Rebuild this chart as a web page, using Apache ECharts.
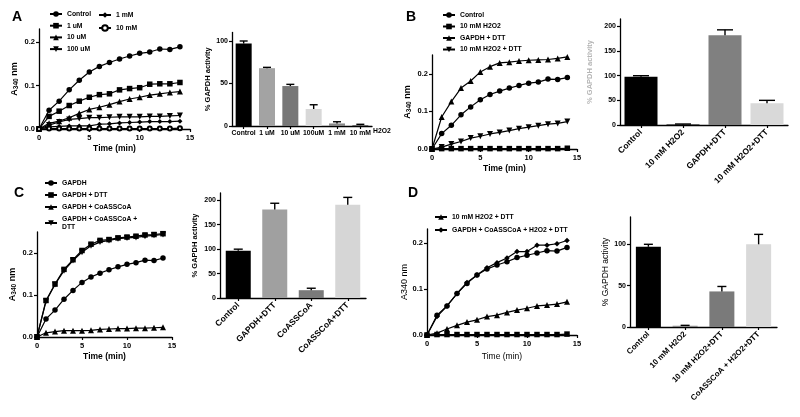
<!DOCTYPE html>
<html><head><meta charset="utf-8">
<script src="https://cdn.jsdelivr.net/npm/echarts@6/dist/echarts.min.js"></script>
<style>html,body{margin:0;padding:0;background:#fff}#c{width:800px;height:417px}</style>
</head><body><div id="c"></div>
<script>
// ---------- data ----------
const timeMin = [0,1,2,3,4,5,6,7,8,9,10,11,12,13,14];
const xTicks = [0,5,10,15];
const yTicksLine = [0,0.1,0.2];

// Panel A kinetics
const aControl = [0,0.043,0.064,0.09,0.112,0.131,0.144,0.153,0.161,0.168,0.174,0.177,0.184,0.183,0.189];
const a1uM    = [0,0.029,0.041,0.054,0.064,0.073,0.079,0.081,0.09,0.093,0.095,0.103,0.104,0.104,0.107];
const a10uM   = [0,0.013,0.018,0.026,0.036,0.045,0.05,0.056,0.063,0.069,0.073,0.078,0.081,0.084,0.086];
const a100uM  = [0,0.009,0.016,0.022,0.024,0.026,0.026,0.027,0.028,0.028,0.028,0.029,0.029,0.03,0.031];
const a1mM    = [0,0.005,0.006,0.007,0.007,0.007,0.011,0.012,0.014,0.015,0.016,0.017,0.017,0.017,0.018];
const a10mM   = [0,0.001,0.001,0.001,0.001,0.001,0.001,0.001,0.001,0.001,0.001,0.001,0.001,0.001,0.002];
// Panel A bars
const aBarCats = ['Control','1 uM','10 uM','100uM','1 mM','10 mM'];
const aBarVals = [97,68,47,20,3,1];
const aBarErr  = [3,1,2,5,2,1];
const aBarTicks = [0,50,100];

// Panel B kinetics
const bControl = [0,0.041,0.063,0.091,0.112,0.131,0.145,0.154,0.162,0.169,0.175,0.178,0.186,0.185,0.19];
const bH2O2    = [0,0.001,0.001,0.001,0.001,0.001,0.001,0.001,0.001,0.001,0.001,0.001,0.001,0.001,0.002];
const bDTT     = [0,0.085,0.126,0.162,0.181,0.205,0.219,0.229,0.231,0.234,0.236,0.237,0.238,0.241,0.245];
const bH2O2DTT = [0,0.005,0.013,0.02,0.029,0.034,0.04,0.044,0.049,0.054,0.058,0.062,0.066,0.068,0.073];
// Panel B bars
const bBarCats = ['Control','10 mM H2O2','GAPDH+DTT','10 mM H2O2+DTT'];
const bBarVals = [98,1,182,44];
const bBarErr  = [2,1,11,6];
const bBarTicks = [0,50,100,150,200];

// Panel C kinetics
const cGAPDH   = [0,0.043,0.064,0.09,0.111,0.13,0.143,0.152,0.16,0.167,0.173,0.177,0.183,0.182,0.188];
const cDTT     = [0,0.087,0.126,0.161,0.184,0.206,0.221,0.23,0.232,0.236,0.238,0.24,0.243,0.244,0.246];
const cCoA     = [0,0.01,0.013,0.015,0.015,0.015,0.016,0.018,0.019,0.02,0.02,0.021,0.021,0.022,0.023];
const cCoADTT  = [0,0.085,0.125,0.158,0.182,0.202,0.217,0.226,0.23,0.234,0.236,0.237,0.24,0.242,0.244];
// Panel C bars
const cBarCats = ['Control','GAPDH+DTT','CoASSCoA','CoASSCoA+DTT'];
const cBarVals = [97,181,16,191];
const cBarErr  = [3,13,4,15];
const cBarTicks = [0,50,100,150,200];

// Panel D kinetics
const dControl    = [0,0.043,0.063,0.09,0.112,0.13,0.143,0.152,0.159,0.168,0.173,0.178,0.183,0.182,0.19];
const dH2O2       = [0,0.001,0.001,0.001,0.001,0.001,0.001,0.001,0.001,0.001,0.001,0.001,0.001,0.001,0.002];
const dH2O2DTT    = [0,0.004,0.013,0.021,0.028,0.033,0.04,0.043,0.049,0.054,0.058,0.063,0.065,0.067,0.072];
const dCoAH2O2DTT = [0,0.04,0.063,0.09,0.114,0.13,0.146,0.157,0.167,0.181,0.181,0.195,0.195,0.198,0.205];
// Panel D bars
const dBarCats = ['Control','10 mM H2O2','10 mM H2O2+DTT','CoASSCoA + H2O2+DTT'];
const dBarVals = [97,1.5,43,100];
const dBarErr  = [3,0.5,6,12];
const dBarTicks = [0,50,100];

// ---------- styling ----------
const FONT = '"Liberation Sans", Arial, sans-serif';
const aBarColors = ['#000000','#a3a3a3','#777777','#d8d8d8','#8a8a8a','#5a5a5a'];
const bBarColors = ['#000000','#000000','#808080','#d9d9d9'];
const cBarColors = ['#000000','#a0a0a0','#7a7a7a','#d6d6d6'];
const dBarColors = ['#000000','#8a8a8a','#7a7a7a','#d9d9d9'];

const grids = [
  {left:39,  top:29,  width:151, height:100}, // 0 A line
  {left:232, top:32.5,width:140, height:93.5},// 1 A bar
  {left:432, top:55,  width:145, height:94},  // 2 B line
  {left:620, top:19,  width:168, height:106}, // 3 B bar
  {left:37,  top:232, width:135, height:105}, // 4 C line
  {left:220, top:193, width:146, height:105}, // 5 C bar
  {left:427, top:229, width:150, height:106}, // 6 D line
  {left:630, top:217, width:147, height:110}  // 7 D bar
];

const axLine = {show:true, lineStyle:{color:'#000', width:1.3}};
const axTick = (vals) => ({show:true, inside:false, length:3, lineStyle:{color:'#000', width:1.2}, customValues: vals});

function lineX(gi, bold, gap) {
  return {type:'value', gridIndex:gi, min:0, max:15, interval:5,
    axisLine:axLine, axisTick:axTick(xTicks), splitLine:{show:false},
    axisLabel:{customValues:xTicks, fontSize:7.5, fontWeight:'bold', color:'#000', fontFamily:FONT, margin:5},
    name:'Time (min)', nameLocation:'middle', nameGap:gap||15,
    nameTextStyle:{fontSize:8.5, fontWeight:bold?'bold':'normal', color:'#000', fontFamily:FONT}};
}
function lineY(gi, max, sub, gap) {
  return {type:'value', gridIndex:gi, min:0, max:max, interval:0.1,
    axisLine:axLine, axisTick:axTick(yTicksLine), splitLine:{show:false},
    axisLabel:{customValues:yTicksLine, formatter:v=>v.toFixed(1), fontSize:7.5, fontWeight:'bold', color:'#000', fontFamily:FONT, margin:4},
    name: sub ? '{a|A}{s|340}{a| nm}' : 'A340 nm', nameLocation:'middle', nameGap:gap,
    nameTextStyle:{fontSize:9, fontWeight:sub?'bold':'normal', color:'#000', fontFamily:FONT,
      rich:{a:{fontSize:9, fontWeight:'bold', fontFamily:FONT, color:'#000'},
            s:{fontSize:6.5, fontWeight:'bold', fontFamily:FONT, color:'#000', verticalAlign:'bottom', padding:[3,0,0,0]}}}};
}
function barX(gi, cats, rotate, fs) {
  return {type:'category', gridIndex:gi, data:cats,
    axisLine:axLine, axisTick:{show:true, alignWithLabel:true, length:3, lineStyle:{color:'#000', width:1.2}},
    axisLabel:{interval:0, rotate:rotate, fontSize:fs, fontWeight:'bold', color:'#000', fontFamily:FONT, margin:rotate?6:4}};
}
function barY(gi, max, ticks, nameColor, nameGap, bold) {
  return {type:'value', gridIndex:gi, min:0, max:max, interval:50,
    axisLine:axLine, axisTick:axTick(ticks), splitLine:{show:false},
    axisLabel:{customValues:ticks, fontSize:7, fontWeight:'bold', color:'#000', fontFamily:FONT, margin:4},
    name:'% GAPDH activity', nameLocation:'middle', nameGap:nameGap,
    nameTextStyle:{fontSize:bold?7.5:8.5, fontWeight:bold?'bold':'normal', color:nameColor, fontFamily:FONT}};
}

function ls(name, gi, vals, symbol, size, rot) {
  const empty = symbol === 'emptyCircle';
  return {type:'line', name:name, xAxisIndex:gi, yAxisIndex:gi,
    data: timeMin.map((t,i)=>[t, vals[i]]),
    symbol:symbol, symbolSize:size||5, symbolRotate:rot||0, showSymbol:true,
    lineStyle:{color:'#000', width:1.2},
    itemStyle: empty ? {color:'#000', borderColor:'#000', borderWidth:0.9} : {color:'#000', borderWidth:0},
    z:3, animation:false};
}
function bars(name, gi, vals, colors, bw) {
  return {type:'bar', name:name, xAxisIndex:gi, yAxisIndex:gi, barWidth:bw,
    data: vals.map((v,i)=>({value:v, itemStyle:{color:colors[i]}})), animation:false, z:2};
}
function errs(gi, vals, e, cap) {
  return {type:'custom', xAxisIndex:gi, yAxisIndex:gi, z:5, animation:false,
    data: vals.map((v,i)=>[i, v, v+e[i]]),
    renderItem:(params, api) => {
      const b = api.coord([api.value(0), api.value(1)]);
      const t = api.coord([api.value(0), api.value(2)]);
      const st = {stroke:'#000', lineWidth:1.4};
      return {type:'group', children:[
        {type:'line', shape:{x1:b[0], y1:b[1], x2:t[0], y2:t[1]}, style:st},
        {type:'line', shape:{x1:t[0]-cap/2, y1:t[1], x2:t[0]+cap/2, y2:t[1]}, style:st}
      ]};
    }};
}

const legTxt = {fontSize:6.8, fontWeight:'bold', color:'#000', fontFamily:FONT, lineHeight:8};
function leg(names, left, top, gap) {
  return {data:names, left:left, top:top, orient:'vertical', padding:0, itemGap:gap,
    itemWidth:12, itemHeight:7, selectedMode:false, textStyle:legTxt,
    formatter: n => n.split('|')[0]};
}

const option = {
  backgroundColor:'#fff',
  animation:false,
  grid: grids,
  xAxis: [lineX(0,true), barX(1,aBarCats,0,6.8), lineX(2,true), barX(3,bBarCats,45,8.5),
          lineX(4,true), barX(5,cBarCats,45,8.5), lineX(6,false,17), barX(7,dBarCats,45,8)],
  yAxis: [lineY(0,0.23,true,19), barY(1,110,aBarTicks,'#000',17,true), lineY(2,0.25,true,19), barY(3,215,bBarTicks,'#b5b5b5',26,true),
          lineY(4,0.25,true,19), barY(5,215,cBarTicks,'#000',21,true), lineY(6,0.23,false,15), barY(7,133,dBarTicks,'#000',15,false)],
  legend: [
    leg(['Control|A','1 uM|A','10 uM|A','100 uM|A'], 49, 10, 3.7),
    leg(['1 mM|A','10 mM|A'], 98, 11, 5),
    leg(['Control|B','10 mM H2O2|B','GAPDH + DTT|B','10 mM H2O2 + DTT|B'], 442, 11, 3.5),
    leg(['GAPDH|C','GAPDH + DTT|C','GAPDH + CoASSCoA|C','GAPDH + CoASSCoA +\nDTT|C'], 44, 179, 4),
    leg(['10 mM H2O2 + DTT|D','GAPDH + CoASSCoA + H2O2 + DTT|D'], 434, 213, 5)
  ],
  series: [
    ls('Control|A',0,aControl,'circle',5.5),
    ls('1 uM|A',0,a1uM,'rect',5.5),
    ls('10 uM|A',0,a10uM,'triangle',6),
    ls('100 uM|A',0,a100uM,'triangle',6,180),
    ls('1 mM|A',0,a1mM,'diamond',5),
    ls('10 mM|A',0,a10mM,'emptyCircle',4),
    bars('barA',1,aBarVals,aBarColors,16), errs(1,aBarVals,aBarErr,8),

    ls('Control|B',2,bControl,'circle',5.5),
    ls('10 mM H2O2|B',2,bH2O2,'rect',5.5),
    ls('GAPDH + DTT|B',2,bDTT,'triangle',6),
    ls('10 mM H2O2 + DTT|B',2,bH2O2DTT,'triangle',6,180),
    bars('barB',3,bBarVals,bBarColors,33), errs(3,bBarVals,bBarErr,16),

    ls('GAPDH|C',4,cGAPDH,'circle',5.5),
    ls('GAPDH + DTT|C',4,cDTT,'rect',5.5),
    ls('GAPDH + CoASSCoA|C',4,cCoA,'triangle',6),
    ls('GAPDH + CoASSCoA +\nDTT|C',4,cCoADTT,'triangle',6,180),
    bars('barC',5,cBarVals,cBarColors,25), errs(5,cBarVals,cBarErr,9),

    ls('Control|D',6,dControl,'circle',5.5),
    ls('10 mM H2O2|D',6,dH2O2,'rect',5.5),
    ls('10 mM H2O2 + DTT|D',6,dH2O2DTT,'triangle',6),
    ls('GAPDH + CoASSCoA + H2O2 + DTT|D',6,dCoAH2O2DTT,'diamond',5.5),
    bars('barD',7,dBarVals,dBarColors,25), errs(7,dBarVals,dBarErr,9)
  ],
  graphic: [
    {type:'text', left:12, top:10, style:{text:'A', font:'bold 14px '+FONT, fill:'#000'}},
    {type:'text', left:406, top:10, style:{text:'B', font:'bold 14px '+FONT, fill:'#000'}},
    {type:'text', left:14, top:186, style:{text:'C', font:'bold 14px '+FONT, fill:'#000'}},
    {type:'text', left:408, top:186, style:{text:'D', font:'bold 14px '+FONT, fill:'#000'}},
    {type:'text', left:373, top:128, style:{text:'H2O2', font:'bold 6.8px '+FONT, fill:'#000'}}
  ]
};
const chart = echarts.init(document.getElementById('c'), null, {renderer:'canvas'});
chart.setOption(option);
</script></body></html>
